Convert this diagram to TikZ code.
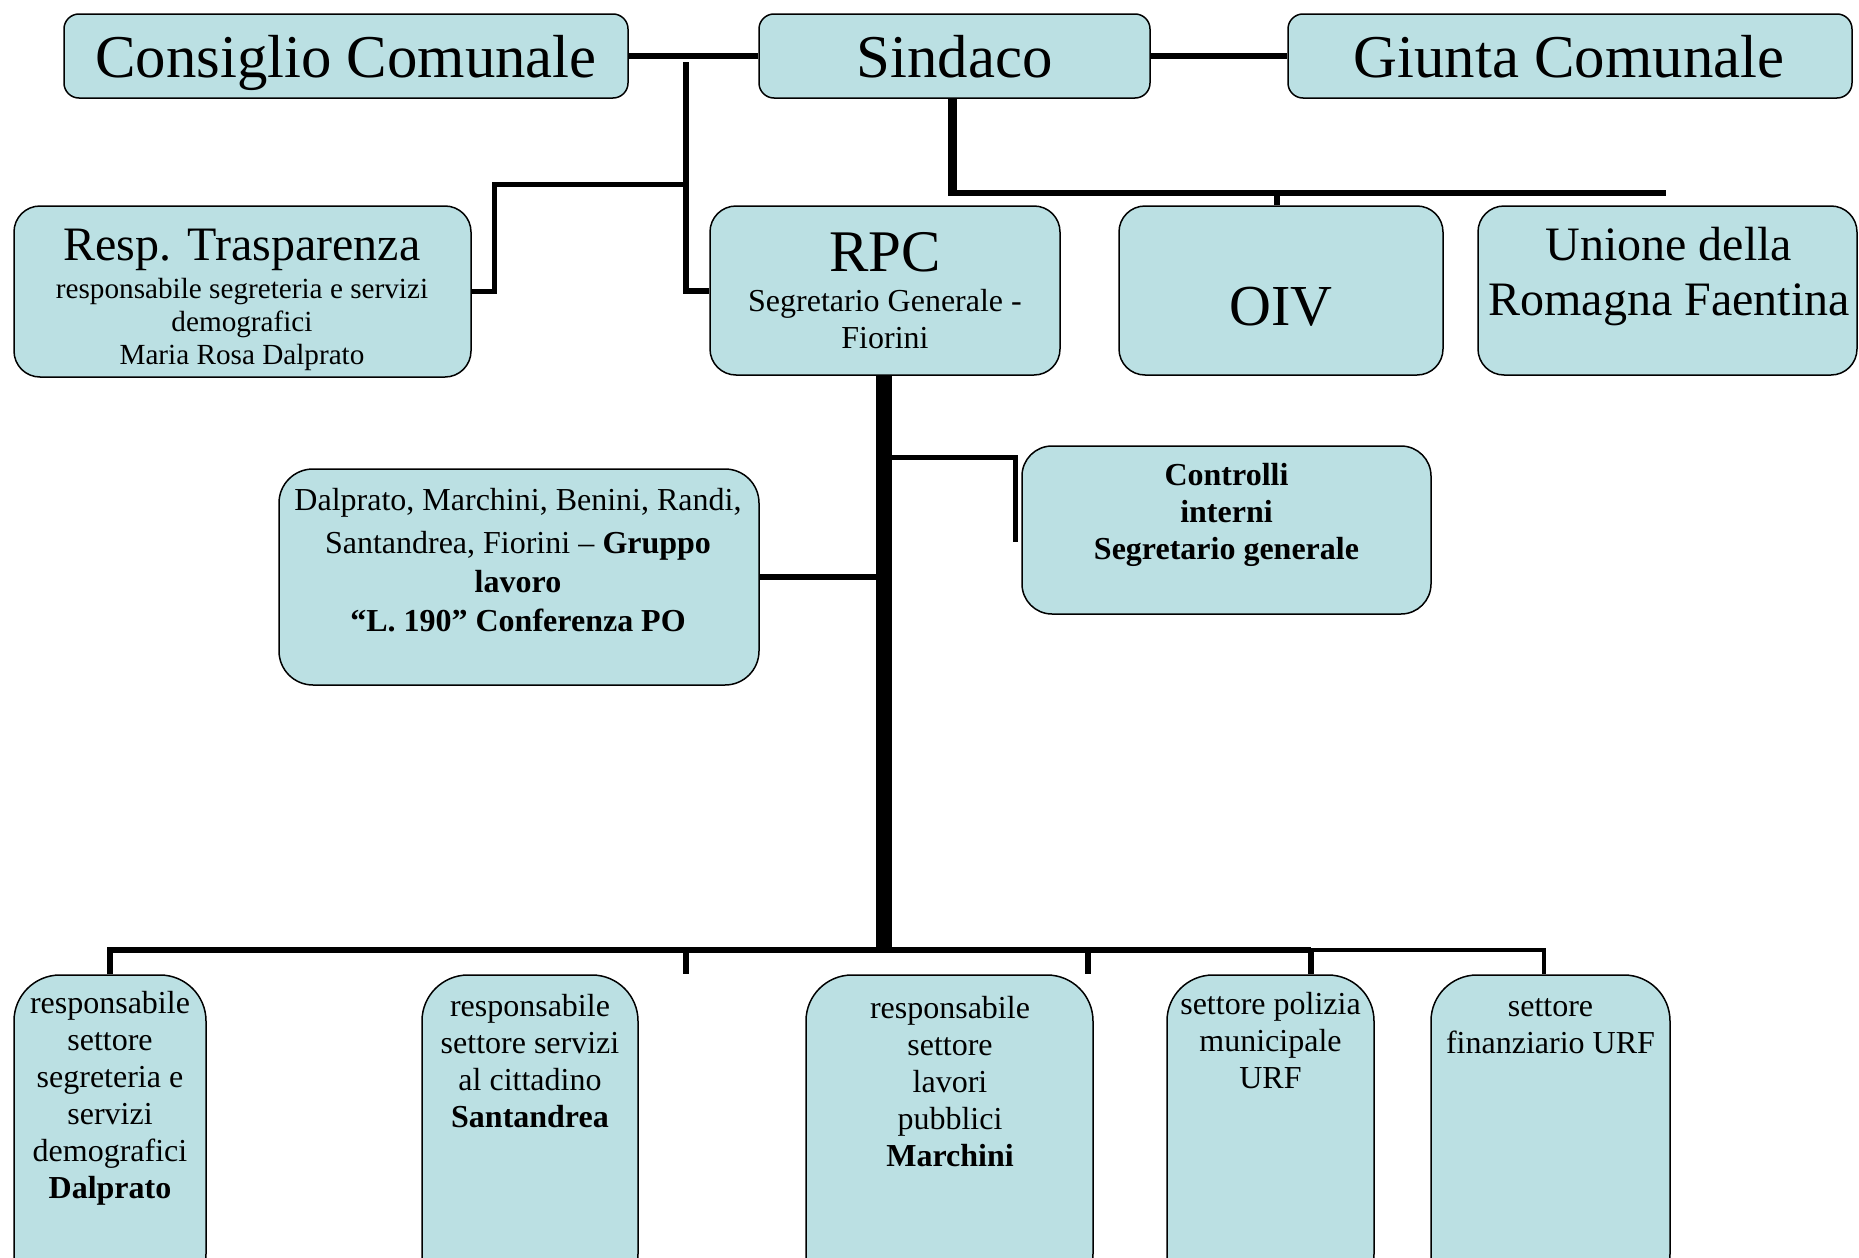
\documentclass[tikz,border=0pt]{standalone}
\usepackage{fontspec}
\setmainfont{Liberation Serif}
\definecolor{boxfill}{HTML}{BBE0E3}
\newcommand{\mlines}[1]{\begin{tabular}[t]{@{}c@{}}#1\end{tabular}}
\newcommand{\fsz}[2]{\fontsize{#1}{#2}\selectfont}
\begin{document}
\begin{tikzpicture}[x=0.5pt,y=-0.5pt,
  orgbox/.style={draw=black, line width=0.75pt, fill=boxfill, inner sep=0pt},
  topbox/.style={orgbox, rounded corners=7.5pt, minimum height=42pt},
  midbox/.style={orgbox, rounded corners=13pt, minimum height=84.5pt},
  lowbox/.style={orgbox, rounded corners=23pt, minimum height=162.5pt},
  conn/.style={line width=2.75pt, line join=miter},
  lbl/.style={inner sep=0pt, anchor=base}]
\clip (0,0) rectangle (1859,1258);
% boxes
\node[topbox, minimum width=282pt] (cc) at (346,56) {};
\node[topbox, minimum width=195.5pt] (sin) at (954.5,56) {};
\node[topbox, minimum width=282pt] (gc) at (1570,56) {};
\node[midbox, minimum width=228.5pt, minimum height=85.5pt] (rt) at (242.5,291.5) {};
\node[midbox, minimum width=175pt] (rpc) at (885,290.5) {};
\node[midbox, minimum width=162pt] (oiv) at (1281,290.5) {};
\node[midbox, minimum width=189.5pt] (un) at (1667.5,290.5) {};
\node[orgbox, rounded corners=17pt, minimum width=240pt, minimum height=108pt] (grp) at (519,577) {};
\node[orgbox, rounded corners=15pt, minimum width=204.5pt, minimum height=84pt] (ctl) at (1226.5,530) {};
\node[lowbox, minimum width=96pt] (b1) at (110,1137.5) {};
\node[lowbox, minimum width=108pt] (b2) at (530,1137.5) {};
\node[lowbox, minimum width=143.5pt] (b3) at (949.5,1137.5) {};
\node[lowbox, minimum width=103.5pt] (b4) at (1270.5,1137.5) {};
\node[lowbox, minimum width=119.5pt] (b5) at (1550.5,1137.5) {};
% texts
\node[lbl] (cct) at (346,77) {\fsz{30.4}{36}Consiglio Comunale};
\node[lbl] (sint) at (954.5,77) {\fsz{30.4}{36}Sindaco};
\node[lbl] (gct) at (1569,77) {\fsz{30.4}{36}Giunta Comunale};
\node[lbl] (rtt) at (242,260) {\fsz{24}{28}Resp. Trasparenza};
\node[lbl] (rts) at (242,298) {\fsz{14.6}{16.6}\mlines{responsabile segreteria e servizi\\demografici\\Maria Rosa Dalprato}};
\node[lbl] (rpct) at (885,271) {\fsz{29.5}{34}RPC};
\node[lbl] (rpcs) at (885,311.5) {\fsz{16}{18.5}\mlines{Segretario Generale -\\Fiorini}};
\node[lbl] (oivt) at (1281,325) {\fsz{29}{34}OIV};
\node[lbl] (unt) at (1669,260) {\fsz{24}{27.5}\mlines{Unione della\\Romagna Faentina}};
\node[lbl] (grpt) at (518,510) {\fsz{16}{19.5}\mlines{Dalprato, Marchini, Benini, Randi,\\[2pt]Santandrea, Fiorini – \textbf{Gruppo}\\\textbf{lavoro}\\\textbf{“L. 190” Conferenza PO}}};
\node[lbl] (ctlt) at (1226.5,485.5) {\fsz{16}{18.5}\bfseries\mlines{Controlli\\interni\\Segretario generale}};
\node[lbl] (b1t) at (110,1013) {\fsz{16}{18.5}\mlines{responsabile\\settore\\segreteria e\\servizi\\demografici\\\textbf{Dalprato}}};
\node[lbl] (b2t) at (530,1016) {\fsz{16}{18.6}\mlines{responsabile\\settore servizi\\al cittadino\\\textbf{Santandrea}}};
\node[lbl] (b3t) at (950,1018) {\fsz{16}{18.6}\mlines{responsabile\\settore\\lavori\\pubblici\\\textbf{Marchini}}};
\node[lbl] (b4t) at (1270.5,1014) {\fsz{16}{18.6}\mlines{settore polizia\\municipale\\URF}};
\node[lbl] (b5t) at (1550.5,1016) {\fsz{16}{18.6}\mlines{settore\\finanziario URF}};
% connector coordinates
\coordinate (j0) at (686,62);
\coordinate (j1) at (686,184.5);
\coordinate (k1) at (494.5,184.5);
\coordinate (s1) at (952.5,196);
\coordinate (h0) at (948,193);
\coordinate (h1) at (1666,193);
\coordinate (t1) at (1277,193);
\coordinate (bus) at (884,950);
\coordinate (c1) at (884,457.5);
\coordinate (c2) at (1015.5,542);
\coordinate (bl) at (110,950);
\coordinate (br1) at (1311,950);
\coordinate (br2) at (1544,950);
\coordinate (x1) at (686,950);
\coordinate (x2) at (1088,950);
\coordinate (x1e) at (686,974);
\coordinate (x2e) at (1088,974);
% connectors
\draw[conn] (cc.east) -- (sin.west);
\draw[conn] (sin.east) -- (gc.west);
\draw[conn, line width=3pt] (j0) |- (rpc.west);
\draw[conn] (rt.east) -| (k1) -- (j1);
\draw[conn, line width=4.5pt] (sin.south -| s1) -- (s1);
\draw[conn, line width=3pt] (h0) -- (h1);
\draw[conn] (t1) -- (t1 |- oiv.north);
\draw[conn, line width=8pt] (rpc.south -| bus) -- (bus);
\draw[conn, line width=2.5pt] (c1) -| (c2);
\draw[conn] (grp.east) -- (grp.east -| bus);
\draw[conn, line width=3pt] (b1.north) -- (bl) -- (br1);
\draw[conn, line width=2.4pt] (br1) -- (br2) -- (br2 |- b5.north);
\draw[conn, line width=3pt] (br1) -- (br1 |- b4.north);
\draw[conn, line width=3pt] (x1) -- (x1e);
\draw[conn, line width=3pt] (x2) -- (x2e);
\end{tikzpicture}
\end{document}
